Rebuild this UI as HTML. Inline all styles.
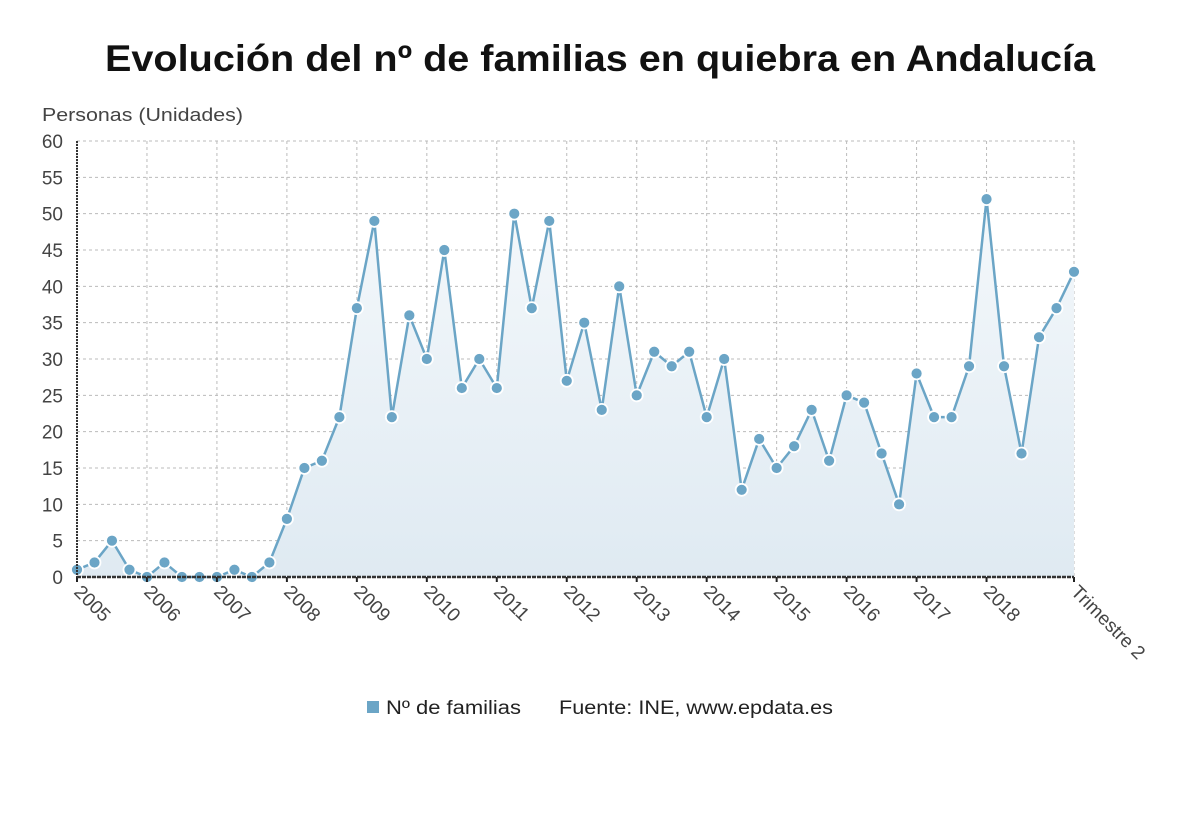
<!DOCTYPE html>
<html><head><meta charset="utf-8"><style>
html,body{margin:0;padding:0;background:#fff;}
body{width:1200px;height:808px;overflow:hidden;font-family:"Liberation Sans",sans-serif;}
</style></head><body>
<svg width="1200" height="808" viewBox="0 0 1200 808" xmlns="http://www.w3.org/2000/svg">
<defs><linearGradient id="g" x1="0" y1="0" x2="0" y2="1"><stop offset="0" stop-color="#f4f8fb"/><stop offset="1" stop-color="#dfeaf2"/></linearGradient></defs>
<text x="105" y="71" font-size="37" font-weight="bold" fill="#111" textLength="990" lengthAdjust="spacingAndGlyphs">Evolución del nº de familias en quiebra en Andalucía</text>
<text x="42" y="121" font-size="18" fill="#444" textLength="201" lengthAdjust="spacingAndGlyphs">Personas (Unidades)</text>
<g id="grid"></g><g id="area"></g><g id="series"></g><g id="axes"></g>
<g>
<rect x="367" y="701" width="12" height="12" fill="#6ba5c6"/>
<text x="386" y="714" font-size="19" fill="#222" textLength="135" lengthAdjust="spacingAndGlyphs">Nº de familias</text>
<text x="559" y="714" font-size="19" fill="#222" textLength="274" lengthAdjust="spacingAndGlyphs">Fuente: INE, www.epdata.es</text>
</g>
</svg>
<script>
const years = ["2005","2006","2007","2008","2009","2010","2011","2012","2013","2014","2015","2016","2017","2018"];
const lastLabel = "Trimestre 2";
const values = [1,2,5,1, 0,2,0,0, 0,1,0,2, 8,15,16,22, 37,49,22,36, 30,45,26,30, 26,50,37,49, 27,35,23,40, 25,31,29,31, 22,30,12,19, 15,18,23,16, 25,24,17,10, 28,22,22,29, 52,29,17,33, 37,42];
const yTicks = [0,5,10,15,20,25,30,35,40,45,50,55,60];
const NS="http://www.w3.org/2000/svg";
const X0=77,X1=1074,Y0=577,Y1=141;
const x=i=>X0+(X1-X0)*i/(values.length-1);
const y=v=>Y0-(Y0-Y1)*v/60;
function mk(t,a,p){const e=document.createElementNS(NS,t);for(const k in a)e.setAttribute(k,a[k]);p.appendChild(e);return e;}
const grid=document.getElementById('grid'),axes=document.getElementById('axes');
yTicks.forEach(v=>{
 const l=mk('line',{x1:X0,x2:X1,y1:y(v),y2:y(v),stroke:'#bbb','stroke-dasharray':'3,3'},grid);
 
 
 const t=mk('text',{x:63,y:y(v)+7,'text-anchor':'end','font-size':19,fill:'#444'},axes);t.textContent=v;
 
 
});
const labels=years.concat([lastLabel]);
labels.forEach((lb,k)=>{
 const i=k<years.length?k*4:values.length-1;
 const xx=x(i);
 const l=mk('line',{x1:xx,x2:xx,y1:Y1,y2:Y0,stroke:'#bbb','stroke-dasharray':'3,3'},grid);
 
 
 mk('line',{x1:xx,x2:xx,y1:Y0,y2:Y0+5,stroke:'#222','stroke-width':2},axes);
 const t=mk('text',{x:xx-4,y:Y0+16,'font-size':19,fill:'#444',transform:`rotate(45 ${xx-4} ${Y0+16})`},axes);t.textContent=lb;
 
 
});
mk('line',{x1:X0,x2:X0,y1:Y1,y2:Y0,stroke:'#333','stroke-width':2,'stroke-dasharray':'2,1'},axes);
mk('line',{x1:X0,x2:X1,y1:Y0,y2:Y0,stroke:'#333','stroke-width':2.5,'stroke-dasharray':'4,1'},axes);
let d=values.map((v,i)=>(i?'L':'M')+x(i)+','+y(v)).join('');
const a=mk('path',{d:d+`L${x(values.length-1)},${Y0}L${X0},${Y0}Z`,fill:'url(#g)'},document.getElementById('area'));


const s=document.getElementById('series');
const ln=mk('path',{d:d,fill:'none',stroke:'#6ba5c6','stroke-width':2.5},s);


values.forEach((v,i)=>{
 const c=mk('circle',{cx:x(i),cy:y(v),r:6,fill:'#6ba5c6',stroke:'#fff','stroke-width':1.8},s);
 
 
});
</script>
</body></html>
